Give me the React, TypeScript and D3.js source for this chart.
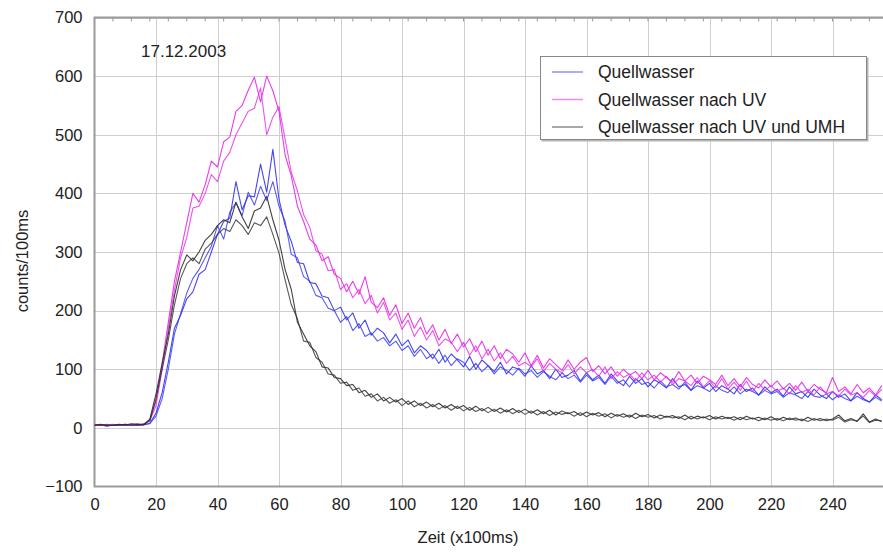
import { useEffect, useRef } from "react";
import * as d3 from "d3";

// sample spacing along the time axis (x100ms)
const STEP = 2;

// Quellwasser (two runs)
const blueA = [
  4, 5, 3, 5, 4, 5, 4, 6, 5, 8,
  25, 60, 112, 170, 192, 220, 232, 262, 270, 300,
  330, 352, 358, 420, 372, 396, 394, 450, 402, 475,
  390, 345, 318, 282, 280, 248, 246, 225, 222, 200,
  206, 184, 196, 170, 184, 158, 170, 162, 145, 160,
  140, 150, 128, 140, 132, 118, 134, 112, 126, 116,
  104, 122, 100, 116, 106, 96, 112, 92, 104, 100,
  88, 106, 92, 98, 84, 100, 86, 90, 98, 80,
  94, 82, 90, 76, 92, 80, 72, 88, 76, 84,
  70, 82, 76, 68, 84, 70, 74, 64, 80, 68,
  76, 62, 72, 66, 58, 74, 62, 68, 56, 70,
  60, 66, 54, 70, 58, 62, 52, 66, 56, 50,
  62, 52, 58, 46, 60, 50, 44, 56, 48,
];
const blueB = [
  5, 4, 5, 4, 5, 4, 5, 4, 6, 7,
  20, 50, 100, 160, 195, 230, 255, 270, 290, 310,
  345, 322, 368, 384, 362, 402, 380, 412, 388, 420,
  378, 352, 296, 290, 258, 250, 226, 222, 204, 200,
  180, 190, 166, 178, 156, 162, 148, 154, 140, 148,
  132, 140, 122, 134, 118, 126, 110, 124, 106, 118,
  112, 98, 110, 96, 106, 92, 104, 98, 90, 102,
  92, 98, 86, 96, 88, 82, 94, 84, 90, 78,
  90, 80, 86, 74, 88, 76, 82, 70, 84, 74,
  78, 68, 80, 70, 74, 66, 78, 64, 72, 68,
  62, 72, 64, 60, 70, 58, 66, 62, 56, 64,
  58, 62, 52, 60, 56, 50, 62, 54, 52, 58,
  48, 56, 50, 46, 54, 48, 44, 52, 46,
];

// Quellwasser nach UV (two runs)
const magentaA = [
  5, 4, 6, 5, 5, 6, 5, 7, 6, 14,
  45, 110, 180, 250, 300, 350, 400, 385, 415, 455,
  445, 488, 496, 540, 550, 576, 598, 556, 600, 575,
  540, 465, 430, 378, 352, 322, 312, 285, 292, 262,
  255, 232, 250, 228, 258, 214, 205, 222, 192, 210,
  178, 196, 170, 188, 160, 176, 150, 168, 144, 160,
  138, 152, 130, 148, 124, 140, 118, 134, 126, 112,
  128, 106, 124, 102, 118, 108, 98, 116, 100, 112,
  120, 96, 106, 92, 104, 88, 100, 90, 96, 84,
  98, 82, 94, 86, 78, 96, 80, 90, 76, 88,
  82, 74, 90, 72, 84, 70, 86, 74, 68, 82,
  70, 80, 66, 76, 64, 78, 62, 74, 66, 60,
  86, 62, 70, 58, 74, 60, 68, 56, 72,
];
const magentaB = [
  6, 5, 5, 6, 4, 5, 6, 5, 7, 12,
  38, 100, 170, 235, 290, 325, 375, 378, 400, 432,
  420, 455, 470, 500, 520, 540, 545, 580, 500, 530,
  548, 492, 436, 404, 364, 342, 302, 296, 268, 270,
  236, 246, 222, 236, 212, 226, 196, 214, 184, 196,
  168, 184, 156, 172, 150, 166, 140, 152, 146, 130,
  146, 124, 140, 118, 134, 114, 128, 110, 122, 106,
  112, 104, 118, 96, 110, 100, 94, 108, 92, 104,
  94, 100, 88, 104, 84, 96, 86, 92, 80, 94,
  82, 90, 78, 88, 74, 84, 80, 72, 86, 70,
  80, 68, 84, 66, 78, 64, 80, 62, 76, 64,
  72, 62, 68, 58, 72, 60, 66, 56, 70, 58,
  62, 54, 66, 56, 60, 52, 64, 54, 66,
];

// Quellwasser nach UV und UMH (two runs)
const blackA = [
  5, 6, 4, 5, 6, 5, 7, 6, 5, 15,
  58, 110, 160, 225, 270, 295, 285, 300, 320, 330,
  345, 355, 350, 385, 360, 340, 370, 375, 395, 355,
  320, 270, 236, 180, 160, 140, 130, 104, 102, 86,
  84, 72, 74, 60, 64, 52, 58, 46, 52, 44,
  50, 40, 46, 38, 44, 36, 42, 34, 40, 33,
  38, 30, 37, 29, 35, 28, 34, 27, 33, 26,
  32, 25, 31, 24, 30, 22, 29, 24, 28, 21,
  27, 22, 26, 19, 25, 20, 24, 18, 25, 19,
  23, 17, 22, 18, 21, 16, 22, 15, 20, 17,
  21, 15, 20, 16, 19, 14, 20, 15, 18, 14,
  19, 13, 18, 14, 17, 12, 18, 13, 16, 12,
  15, 22, 12, 16, 11, 24, 10, 15, 11,
];
const blackB = [
  4, 5, 5, 4, 5, 6, 5, 5, 6, 12,
  50, 100, 150, 210, 255, 280, 290, 280, 305, 315,
  330, 340, 335, 355, 345, 330, 350, 345, 360, 330,
  298, 252, 210, 186, 148, 146, 120, 112, 92, 90,
  76, 78, 64, 68, 54, 58, 46, 52, 42, 48,
  38, 46, 36, 42, 34, 40, 32, 38, 30, 37,
  29, 35, 28, 33, 26, 32, 25, 31, 24, 30,
  23, 29, 22, 28, 21, 27, 23, 26, 20, 26,
  19, 25, 20, 24, 17, 23, 18, 22, 16, 22,
  18, 21, 15, 20, 17, 19, 14, 20, 15, 19,
  14, 19, 15, 18, 13, 18, 14, 17, 12, 17,
  13, 16, 12, 17, 13, 15, 11, 16, 12, 15,
  13, 18, 10, 14, 12, 20, 9, 13, 12,
];

const xTicks = [0, 20, 40, 60, 80, 100, 120, 140, 160, 180, 200, 220, 240];
const yTicks = [-100, 0, 100, 200, 300, 400, 500, 600, 700];

const series = [
  { name: "Quellwasser", color: "#3232f0", runs: [blueA, blueB] },
  { name: "Quellwasser nach UV", color: "#e628e6", runs: [magentaA, magentaB] },
  { name: "Quellwasser nach UV und UMH", color: "#2e2e2e", runs: [blackA, blackB] },
];

const WIDTH = 883;
const HEIGHT = 553;
const FONT = "'Liberation Sans', Arial, Helvetica, sans-serif";

export default function App() {
  const svgRef = useRef<SVGSVGElement>(null);

  useEffect(() => {
    if (!svgRef.current) return;
    const svg = d3.select(svgRef.current);
    svg.selectAll("*").remove();

    const left = 94.5;
    const top = 17.5;
    const bottom = 486.5;

    const xScale = d3.scaleLinear().domain([0, 240]).range([left, 832.5]);
    const yScale = d3.scaleLinear().domain([-100, 700]).range([bottom, top]);

    svg.append("rect").attr("width", WIDTH).attr("height", HEIGHT).attr("fill", "#fff");

    svg
      .append("defs")
      .append("clipPath")
      .attr("id", "plot-clip")
      .append("rect")
      .attr("x", left)
      .attr("y", top)
      .attr("width", WIDTH - left)
      .attr("height", bottom - top);

    // grid
    const grid = svg.append("g").attr("stroke", "#cfcfcf").attr("stroke-width", 1);
    xTicks.slice(1).forEach((t) => {
      grid
        .append("line")
        .attr("x1", Math.round(xScale(t)) + 0.5)
        .attr("x2", Math.round(xScale(t)) + 0.5)
        .attr("y1", top)
        .attr("y2", bottom);
    });
    yTicks.slice(1).forEach((t) => {
      grid
        .append("line")
        .attr("x1", left)
        .attr("x2", WIDTH)
        .attr("y1", Math.round(yScale(t)) + 0.5)
        .attr("y2", Math.round(yScale(t)) + 0.5);
    });

    // frame
    const frame = svg.append("g").attr("stroke", "#9a9a9a").attr("fill", "none");
    frame
      .append("path")
      .attr("stroke-width", 2)
      .attr("d", `M${WIDTH},${top}H${left}V${bottom}H${WIDTH}`);

    // small ticks along the top edge
    d3.range(6, 256, 6).forEach((t) => {
      frame
        .append("line")
        .attr("stroke-width", 1)
        .attr("x1", xScale(t))
        .attr("x2", xScale(t))
        .attr("y1", top)
        .attr("y2", top + 4);
    });

    // x axis
    const xAxis = svg
      .append("g")
      .attr("transform", `translate(0,${bottom})`)
      .call(d3.axisBottom(xScale).tickValues(xTicks).tickSize(0).tickPadding(12));
    xAxis.select(".domain").remove();
    xAxis
      .selectAll(".tick text")
      .attr("fill", "#222")
      .attr("font-size", 16.5)
      .attr("font-family", FONT);

    // y axis
    const yAxis = svg
      .append("g")
      .attr("transform", `translate(${left},0)`)
      .call(d3.axisLeft(yScale).tickValues(yTicks).tickSize(0).tickPadding(12));
    yAxis.select(".domain").remove();
    yAxis
      .selectAll(".tick text")
      .attr("fill", "#222")
      .attr("font-size", 16.5)
      .attr("font-family", FONT);

    // axis labels
    svg
      .append("text")
      .attr("x", 468)
      .attr("y", 543)
      .attr("text-anchor", "middle")
      .attr("fill", "#222")
      .attr("font-size", 16.5)
      .attr("font-family", FONT)
      .text("Zeit (x100ms)");

    svg
      .append("text")
      .attr("transform", `translate(28,261) rotate(-90)`)
      .attr("text-anchor", "middle")
      .attr("fill", "#222")
      .attr("font-size", 16.5)
      .attr("font-family", FONT)
      .text("counts/100ms");

    svg
      .append("text")
      .attr("x", 141)
      .attr("y", 57)
      .attr("fill", "#222")
      .attr("font-size", 17)
      .attr("font-family", FONT)
      .text("17.12.2003");

    // data lines
    const line = d3
      .line<number>()
      .x((_, i) => xScale(i * STEP))
      .y((d) => yScale(d));

    const lines = svg.append("g").attr("clip-path", "url(#plot-clip)");
    series.forEach((s) => {
      s.runs.forEach((run, k) => {
        lines
          .append("path")
          .datum(run)
          .attr("fill", "none")
          .attr("stroke", s.color)
          .attr("stroke-width", 1.1)
          .attr("stroke-opacity", k === 0 ? 0.9 : 0.8)
          .attr("stroke-linejoin", "round")
          .attr("d", line);
      });
    });

    // legend
    const legend = svg.append("g").attr("transform", "translate(540,56)");
    legend
      .append("rect")
      .attr("x", 1.5)
      .attr("y", 1.5)
      .attr("width", 327)
      .attr("height", 84)
      .attr("fill", "#b5b5b5");
    legend
      .append("rect")
      .attr("x", 0.5)
      .attr("y", 0.5)
      .attr("width", 326)
      .attr("height", 83)
      .attr("fill", "#fff")
      .attr("stroke", "#888")
      .attr("stroke-width", 1);

    series.forEach((s, i) => {
      const cy = 16 + i * 27.5;
      legend
        .append("line")
        .attr("x1", 12)
        .attr("x2", 43)
        .attr("y1", cy)
        .attr("y2", cy)
        .attr("stroke", s.color)
        .attr("stroke-opacity", 0.55)
        .attr("stroke-width", 1.5);
      legend
        .append("text")
        .attr("x", 58)
        .attr("y", cy)
        .attr("dy", "0.35em")
        .attr("fill", "#222")
        .attr("font-size", 17.5)
        .attr("font-family", FONT)
        .text(s.name);
    });
  }, []);

  return (
    <svg
      ref={svgRef}
      width={WIDTH}
      height={HEIGHT}
      style={{ position: "absolute", left: 0, top: 0 }}
    />
  );
}
